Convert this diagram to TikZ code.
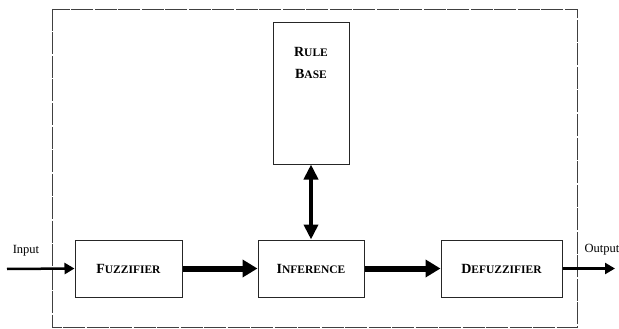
\documentclass[tikz,border=0pt]{standalone}
\usepackage{fontspec}
\setmainfont{Liberation Serif}
\usetikzlibrary{arrows.meta}
\newcommand{\capword}[2]{\textbf{{\fontsize{14}{16}\selectfont #1}{\fontsize{11.5}{14}\selectfont #2}}}
\begin{document}
\begin{tikzpicture}
        [x=1pt,y=-1pt,
         block_style/.style={rectangle,draw=black!85,line width=1pt,fill=white,inner sep=0pt},
         text_style/.style={inner sep=0pt,align=center},
         io_style/.style={inner sep=0pt,font=\fontsize{12.5}{14}\selectfont},
         frame_style/.style={draw=black!75,line width=0.8pt,dash pattern=on 22pt off 1.5pt},
         thin_arrow/.style={draw=black,line width=2.5pt,-{Triangle[length=10pt,width=11pt]}},
         thick_arrow/.style={draw=black,line width=6pt,-{Triangle[length=15pt,width=17pt]}},
         both_arrow/.style={draw=black,line width=4pt,{Triangle[length=15pt,width=14pt]}-{Triangle[length=15pt,width=14pt]}}]
            \useasboundingbox (0,0) rectangle (619,329);
            \draw[frame_style] (52,9) rectangle (577,327);
            \node[block_style,minimum width=107pt,minimum height=57pt] (fuzz) at (128.5,268.5) {\capword{F}{UZZIFIER}};
            \node[block_style,minimum width=106pt,minimum height=57pt] (infer) at (311,268.5) {\capword{I}{NFERENCE}};
            \node[block_style,minimum width=121pt,minimum height=57pt] (defuzz) at (501.5,268.5) {\capword{D}{EFUZZIFIER}};
            \node[block_style,minimum width=76pt,minimum height=141pt] (rule) at (311,93.5) {};
            \node[text_style] (rulelbl) at (311,63) {\capword{R}{ULE}\\[10pt]\capword{B}{ASE}};
            \coordinate (in) at (7,269);
            \coordinate (out) at (615,268.5);
            \node[io_style] (inlbl) at (26,251) {Input};
            \node[io_style] (outlbl) at (602,250) {Output};
            \draw[thin_arrow]  (in) -- (fuzz.west);
            \draw[thick_arrow] (fuzz) -- (infer);
            \draw[thick_arrow] (infer) -- (defuzz);
            \draw[thin_arrow]  (defuzz.east) -- (out);
            \draw[both_arrow]  (rule) -- (infer);
        \end{tikzpicture}
\end{document}
